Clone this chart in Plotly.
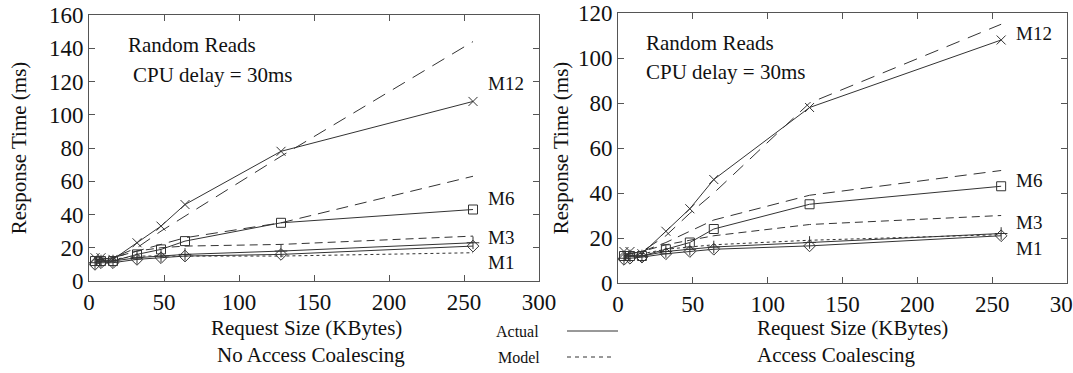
import plotly.graph_objects as go

W, H = 1073, 373

sizes = [4, 8, 16, 32, 48, 64, 128, 256]

# No Access Coalescing (left)
nc_m12_actual = [14, 14, 13, 23, 33, 46, 78, 108]
nc_m12_model = [13, 13, 14, 20, 30, 39, 75, 144]
nc_m6_actual = [12, 12, 12, 16, 19, 24, 35, 43]
nc_m6_model = [13, 13, 14, 18, 22, 26, 35, 63]
nc_m3_actual = [11, 12, 12, 14, 15, 16, 18, 23]
nc_m3_model = [13, 13, 14, 18, 20, 21, 22, 27]
nc_m1_actual = [10, 11, 11, 13, 14, 15, 16, 21]
nc_m1_model = [11, 12, 13, 15, 15, 15, 15, 17]

# Access Coalescing (right)
ac_m12_actual = [14, 14, 13, 23, 33, 46, 78, 108]
ac_m12_model = [12, 13, 14, 21, 31, 40, 80, 115]
ac_m6_actual = [12, 12, 12, 15, 18, 24, 35, 43]
ac_m6_model = [13, 13, 14, 18, 23, 28, 39, 50]
ac_m3_actual = [11, 12, 12, 14, 15, 16, 18, 22]
ac_m3_model = [12, 13, 14, 17, 19, 21, 26, 30]
ac_m1_actual = [10.5, 11, 11.5, 13, 14, 15, 16.5, 21]
ac_m1_model = [11, 12, 13, 15, 16, 17, 19, 21.5]

left_y_ticks = [0, 20, 40, 60, 80, 100, 120, 140, 160]
right_y_ticks = [0, 20, 40, 60, 80, 100, 120]
x_ticks = [0, 50, 100, 150, 200, 250, 300]

FONT = "Liberation Serif, Times New Roman, serif"
LC = "#333333"

fig = go.Figure()

def add_series(xa, ya, actual, model, symbol, dash):
    fig.add_trace(go.Scatter(x=sizes, y=model, mode="lines", xaxis=xa, yaxis=ya,
                             line=dict(color=LC, width=1, dash=dash), showlegend=False,
                             hoverinfo="skip"))
    fig.add_trace(go.Scatter(x=sizes, y=actual, mode="lines+markers", xaxis=xa, yaxis=ya,
                             line=dict(color=LC, width=1),
                             marker=dict(symbol=symbol, size=9, color=LC,
                                         line=dict(color=LC, width=1)),
                             showlegend=False))

for xa, ya, data in [
    ("x", "y", [(nc_m12_actual, nc_m12_model, "x-thin-open", "14px,9px"),
                (nc_m6_actual, nc_m6_model, "square-open", "12px,7px"),
                (nc_m3_actual, nc_m3_model, "cross-thin-open", "8px,5px"),
                (nc_m1_actual, nc_m1_model, "diamond-open", "3px,3px")]),
    ("x2", "y2", [(ac_m12_actual, ac_m12_model, "x-thin-open", "14px,9px"),
                  (ac_m6_actual, ac_m6_model, "square-open", "12px,7px"),
                  (ac_m3_actual, ac_m3_model, "cross-thin-open", "8px,5px"),
                  (ac_m1_actual, ac_m1_model, "diamond-open", "3px,3px")]),
]:
    for a, m, s, d in data:
        add_series(xa, ya, a, m, s, d)

axis_common = dict(showline=True, linecolor="#555", linewidth=1, mirror="allticks",
                   ticks="inside", ticklen=6, tickcolor="#555", showgrid=False,
                   zeroline=False, automargin=False, ticklabeloverflow="allow",
                   tickfont=dict(family=FONT, size=23, color="#111"))

fig.update_layout(
    width=W, height=H, margin=dict(l=0, r=0, t=0, b=0, autoexpand=False),
    paper_bgcolor="white", plot_bgcolor="white",
    font=dict(family=FONT, color="#111"),
    xaxis=dict(domain=[89 / W, 539 / W], range=[0, 300], tickvals=x_ticks, anchor="y",
               **axis_common),
    yaxis=dict(domain=[1 - 281 / H, 1 - 15 / H], range=[0, 160], tickvals=left_y_ticks,
               anchor="x",
               title=dict(text="Response Time (ms)", standoff=16,
                          font=dict(family=FONT, size=21)), **axis_common),
    xaxis2=dict(domain=[618 / W, 1067 / W], range=[0, 300], tickvals=x_ticks, anchor="y2",
                **axis_common),
    yaxis2=dict(domain=[1 - 283 / H, 1 - 13 / H], range=[0, 120], tickvals=right_y_ticks,
                anchor="x2",
                title=dict(text="Response Time (ms)", standoff=3,
                           font=dict(family=FONT, size=21)), **axis_common),
)

ann = []
def txt(x, y, t, size=18, xanchor="left"):
    ann.append(dict(x=x / W, y=1 - y / H, xref="paper", yref="paper", text=t,
                    showarrow=False, xanchor=xanchor, yanchor="middle",
                    font=dict(family=FONT, size=size, color="#111")))

# in-plot labels
txt(126, 45, "Random Reads", size=21)
txt(131, 75, "CPU delay = 30ms", size=21)
txt(644, 43, "Random Reads", size=21)
txt(644, 72, "CPU delay = 30ms", size=21)
for x, y, t in [(486, 83, "M12"), (486, 198, "M6"), (486, 237, "M3"), (486, 262, "M1"),
                (1014, 33, "M12"), (1014, 180, "M6"), (1014, 223, "M3"), (1014, 248, "M1")]:
    txt(x, y, t, size=19)

# bottom texts
txt(306, 328, "Request Size (KBytes)", size=21, xanchor="center")
txt(311, 355, "No Access Coalescing", size=21, xanchor="center")
txt(755, 328, "Request Size (KBytes)", size=21)
txt(755, 355, "Access Coalescing", size=21)
txt(494, 331, "Actual", size=16)
txt(496, 357, "Model", size=16)

fig.update_layout(annotations=ann)
fig.add_shape(type="line", xref="paper", yref="paper", x0=567 / W, x1=618 / W,
              y0=1 - 331 / H, y1=1 - 331 / H, line=dict(color=LC, width=1))
fig.add_shape(type="line", xref="paper", yref="paper", x0=567 / W, x1=614 / W,
              y0=1 - 357 / H, y1=1 - 357 / H, line=dict(color=LC, width=1, dash="4px,4px"))

fig.write_html("out.html")
